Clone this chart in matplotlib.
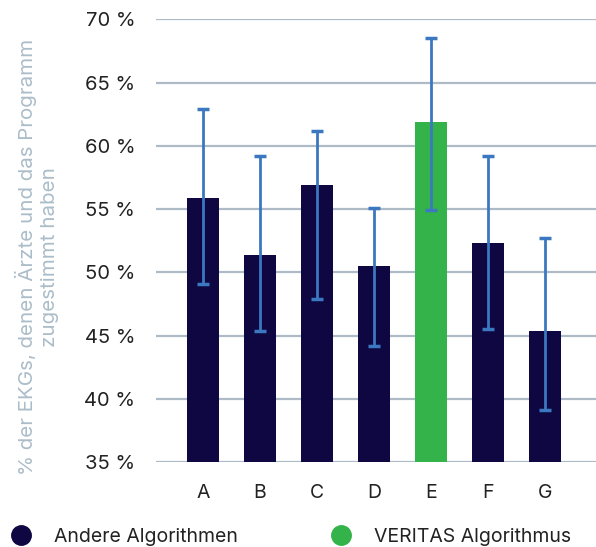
import matplotlib
matplotlib.use("Agg")
import matplotlib.pyplot as plt
from matplotlib.lines import Line2D

categories = ["A", "B", "C", "D", "E", "F", "G"]
values = [55.9, 51.4, 56.9, 50.5, 61.9, 52.3, 45.4]
err_low = [49.1, 45.4, 47.9, 44.2, 54.9, 45.5, 39.1]
err_high = [62.9, 59.2, 61.2, 55.1, 68.5, 59.2, 52.7]
highlight = "E"
legend_labels = ["Andere Algorithmen", "VERITAS Algorithmus"]
yticks = [35, 40, 45, 50, 55, 60, 65, 70]

navy = "#0e0742"
green = "#33b34a"
err_color = "#3b78c0"
grid_color = "#aebbc6"

plt.rcParams["font.family"] = ["Inter", "DejaVu Sans"]

fig = plt.figure(figsize=(5.96, 5.47), dpi=100)
ax = fig.add_axes([0.2617, 0.1554, 0.7383, 0.809])

x = list(range(len(categories)))
colors = [green if c == highlight else navy for c in categories]
ax.bar(x, [v - 35 for v in values], bottom=35, width=0.56, color=colors, zorder=2)

lower = [v - l for v, l in zip(values, err_low)]
upper = [h - v for v, h in zip(values, err_high)]
ax.errorbar(x, values, yerr=[lower, upper], fmt="none", ecolor=err_color,
            elinewidth=2, capsize=4.6, capthick=2.5, zorder=3)

ax.set_ylim(35, 70)
ax.set_xlim(-0.82, 6.89)
ax.set_yticks(yticks)
ax.set_yticklabels([f"{t} %" for t in yticks], fontsize=14.5, color="#222222")
ax.set_xticks(x)
ax.set_xticklabels(categories, fontsize=14, color="#222222")
ax.tick_params(axis="y", length=0, pad=15)
ax.tick_params(axis="x", length=0, pad=16)
ax.yaxis.grid(True, color=grid_color, linewidth=1.6, zorder=0)
ax.set_axisbelow(True)
for s in ax.spines.values():
    s.set_visible(False)

fig.text(0.062, 0.53, "% der EKGs, denen Ärzte und das Programm\nzugestimmt haben",
         rotation=90, ha="center", va="center", fontsize=14.8, color="#abbdc9",
         linespacing=1.3)

handles = [Line2D([], [], marker="o", linestyle="none", markersize=14, color=navy),
           Line2D([], [], marker="o", linestyle="none", markersize=14, color=green)]
fig.legend(handles, legend_labels, loc="lower left", bbox_to_anchor=(-0.01, -0.03),
           ncol=2, frameon=False, fontsize=14, handlelength=1.0, handletextpad=1.2,
           columnspacing=4.8, labelcolor="#222222")

fig.savefig("out.png", dpi=100)
